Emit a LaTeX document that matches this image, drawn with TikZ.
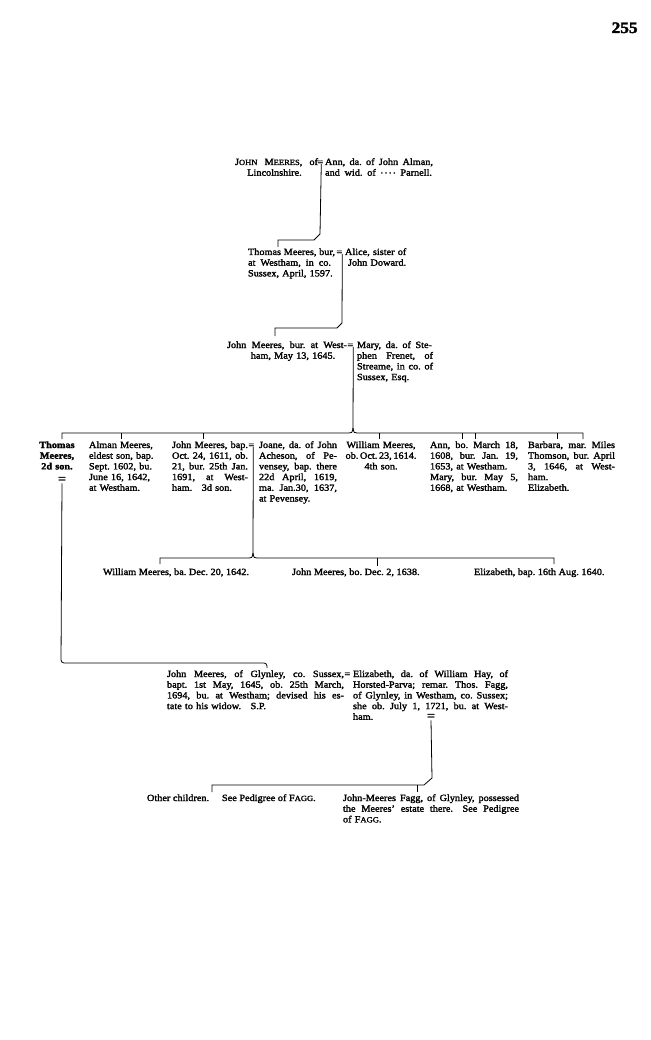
\documentclass[tikz,border=0pt]{standalone}
\usepackage{fontspec}
\setmainfont[FakeStretch=1.08,FakeBold=2]{Liberation Serif}
\newcommand\smc[1]{{\fontsize{7.9}{7.9}\selectfont #1}}
\newcommand\tf{\fontsize{9.5}{10.7}\selectfont\frenchspacing}
\newcommand\J[2]{{\spaceskip=0pt\xspaceskip=0pt\makebox[#1pt][s]{#2}}}
\newcommand\dts{\raisebox{2.3pt}{.\hspace{1.6pt}.\hspace{1.6pt}.\hspace{1.6pt}.}}
\begin{document}
\begin{tikzpicture}[x=1pt,y=-1pt,line width=0.8pt,
  txt/.style={font=\tf,inner sep=0pt,outer sep=0pt,anchor=base west},
  cen/.style={txt,align=center},
  lft/.style={txt,align=left},
  marr/.style={font=\tf,inner sep=0pt,anchor=base west},
  bigmarr/.style={font=\fontsize{13}{13}\selectfont,inner sep=0pt,anchor=center},
  tick/.style={line width=0.8pt}]
\useasboundingbox (0,0) rectangle (650,1040);

% page number
\node[anchor=base east,inner sep=0pt,font=\bfseries\fontsize{16}{16}\selectfont] (pg) at (638,33) {255};

% generation 1
\node[cen,text width=87] (a1) at (231,165) {\hspace*{4pt}\J{83}{J\smc{OHN} M\smc{EERES}, of}\\Lincolnshire.};
\node[marr] (m1) at (317,165) {=};
\node[lft,text width=112] (a2) at (325,165) {\J{108}{Ann, da. of John Alman,}\\\J{107}{and wid. of \dts\ Parnell.}};

% generation 2
\node[lft,text width=90] (b1) at (248,255) {\J{87}{Thomas Meeres, bur,}\\\J{83}{at Westham, in co.}\\Sussex, April, 1597.};
\node[marr] (m2) at (336,255) {=};
\node[lft,text width=72] (b2) at (345,255) {Alice, sister of\\\hspace*{3pt}John Doward.};

\draw ([xshift=1pt,yshift=1.5pt]m1.south) -- (320,234) -- (314,240) -- (278,240) -- (278,247);

% generation 3
\node[cen,text width=120] (c1) at (227,348) {\J{120}{John Meeres, bur. at West-}\\\hspace*{12pt}ham, May 13, 1645.};
\node[marr] (m3) at (347,348) {=};
\node[lft,text width=78] (c2) at (357,348) {\J{75}{Mary, da. of Ste-}\\\J{76}{phen Frenet, of}\\\J{76}{Streame, in co. of}\\Sussex, Esq.};

\draw ([xshift=3pt,yshift=1.5pt]m2.south) -- (342,323) -- (337,328) -- (275,328) -- (275,336);

% children bar
\draw ([xshift=3pt,yshift=1.5pt]m3.south) -- (353,428);
\draw (62,439) -- (62,433) -- (349,433) .. controls (352,433) .. (353,428);
\draw (353,428) .. controls (354,433) .. (357,433) -- (583,433) -- (583,439);
\foreach \x in {121,203,379,462,475,557} \draw[tick] (\x,433) -- (\x,439);

% children
\node[cen,text width=36,font=\tf\bfseries] (t1) at (39,448) {Thomas\\Meeres,\\2d son.};
\node[bigmarr] (m5) at (62,480) {=};
\node[lft,text width=72] (t2) at (89,448) {Alman Meeres,\\eldest son, bap.\\Sept. 1602, bu.\\June 16, 1642,\\at Westham.};
\node[lft,text width=78] (t3) at (172,448) {\J{76}{John Meeres, bap.}\\\J{76}{Oct. 24, 1611, ob.}\\\J{76}{21, bur. 25th Jan.}\\\J{76}{1691, at West-}\\ham.\quad 3d son.};
\node[marr] (m4) at (248,448) {=};
\node[lft,text width=80] (t4) at (259,448) {\J{78}{Joane, da. of John}\\\J{78}{Acheson, of Pe-}\\\J{78}{vensey, bap. there}\\\J{78}{22d April, 1619,}\\\J{78}{ma. Jan.30, 1637,}\\at Pevensey.};
\node[cen,text width=76] (t5) at (343,448) {William Meeres,\\ob.\,Oct.\,23,\,1614.\\4th son.};
\node[lft,text width=90] (t6) at (430,448) {\J{88}{Ann, bo. March 18,}\\\J{88}{1608, bur. Jan. 19,}\\1653, at Westham.\\\J{88}{Mary, bur. May 5,}\\1668, at Westham.};
\node[lft,text width=90] (t7) at (528,448) {\J{87}{Barbara, mar. Miles}\\\J{87}{Thomson, bur. April}\\\J{87}{3, 1646, at West-}\\ham.\\Elizabeth.};

% grandchildren bar
\draw ([xshift=2pt,yshift=1.5pt]m4.south) -- (253,553);
\draw (160,564) -- (160,558) -- (249,558) .. controls (252,558) .. (253,553);
\draw (253,553) .. controls (254,558) .. (257,558) -- (554,558) -- (554,564);
\draw[tick] (377,558) -- (377,566);

\node[txt] (g1) at (103,575) {William Meeres, ba. Dec. 20, 1642.};
\node[txt] (g2) at (292,575) {John Meeres, bo. Dec. 2, 1638.};
\node[txt] (g3) at (474,575) {Elizabeth, bap. 16th Aug. 1640.};

% Thomas's line
\draw[rounded corners=3pt] (m5.south) -- (61,663) -- (267,663) -- (267,668);

% generation 4
\node[lft,text width=180] (d1) at (167,677) {\J{177}{John Meeres, of Glynley, co. Sussex,}\\\J{177}{bapt. 1st May, 1645, ob. 25th March,}\\\J{177}{1694, bu. at Westham; devised his es-}\\tate to his widow.\quad S.P.};
\node[marr] (m6) at (344,677) {=};
\node[lft,text width=157] (d2) at (353,677) {\J{155}{Elizabeth, da. of William Hay, of}\\\J{155}{Horsted-Parva; remar. Thos. Fagg,}\\\J{155}{of Glynley, in Westham, co. Sussex;}\\\J{155}{she ob. July 1, 1721, bu. at West-}\\ham.};
\node[bigmarr] (m7) at (431,717) {=};

\draw (m7.south) -- (432,778) -- (424,785) -- (212,785) -- (212,792);
\draw[tick] (417,785) -- (417,792);

% generation 5
\node[txt] (e1) at (147,801) {Other children.};
\node[txt] (e2) at (222,801) {See Pedigree of F\smc{AGG}.};
\node[lft,text width=178] (e3) at (343,801) {\J{176}{John-Meeres Fagg, of Glynley, possessed}\\\J{176}{the Meeres' estate there.\quad See Pedigree}\\of F\smc{AGG}.};
\end{tikzpicture}
\end{document}
